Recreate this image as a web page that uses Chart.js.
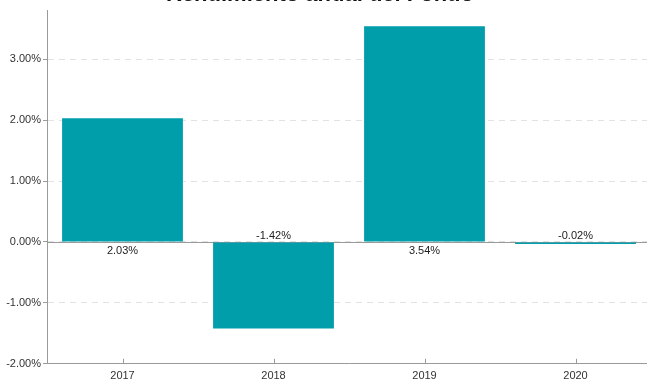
<!DOCTYPE html>
<html>
<head>
<meta charset="utf-8">
<script src="https://cdn.jsdelivr.net/npm/chart.js@4.4.1/dist/chart.umd.min.js"></script>
<style>
	html, body { margin: 0; padding: 0; background: #fff; }
	#wrap { position: relative; width: 647px; height: 379px; overflow: hidden; }
	#chart { position: absolute; left: -11px; top: -30px; }
</style>
</head>
<body>
<div id="wrap"><canvas id="chart" width="662" height="419"></canvas></div>
<script>
const years = ["2017", "2018", "2019", "2020"];
const returns = [2.03, -1.42, 3.54, -0.02];
const yTicks = [-2, -1, 0, 1, 2, 3];

const teal = "#009dab";
const axisGrey = "#9a9a9a";
const pct = v => v.toFixed(2) + "%";

// solid line at 0% over the dashed grid
const zeroLine = {
	id: "zeroLine",
	beforeDatasetsDraw(chart) {
		const { ctx, chartArea, scales } = chart;
		const y = Math.round(scales.y.getPixelForValue(0)) + 0.5;
		ctx.save();
		ctx.strokeStyle = axisGrey;
		ctx.lineWidth = 1;
		ctx.beginPath();
		ctx.moveTo(chartArea.left, y);
		ctx.lineTo(chartArea.right, y);
		ctx.stroke();
		ctx.restore();
	},
};

// small tick marks pointing up from the x axis
const innerTicks = {
	id: "innerTicks",
	afterDraw(chart) {
		const { ctx, scales } = chart;
		const x = scales.x;
		ctx.save();
		ctx.strokeStyle = axisGrey;
		ctx.lineWidth = 1;
		x.ticks.forEach((t, i) => {
			const px = Math.round(x.getPixelForTick(i)) + 0.5;
			ctx.beginPath();
			ctx.moveTo(px, x.top);
			ctx.lineTo(px, x.top - 5);
			ctx.stroke();
		});
		ctx.restore();
	},
};

// value labels on the opposite side of the zero line
const valueLabels = {
	id: "valueLabels",
	afterDatasetsDraw(chart) {
		const { ctx, scales } = chart;
		const zero = scales.y.getPixelForValue(0);
		ctx.save();
		ctx.font = "11px 'Liberation Sans', Arial, sans-serif";
		ctx.fillStyle = "#222";
		ctx.textAlign = "center";
		ctx.textBaseline = "middle";
		chart.getDatasetMeta(0).data.forEach((bar, i) => {
			const v = returns[i];
			const y = v >= 0 ? zero + 9 : zero - 6;
			ctx.fillText(pct(v), bar.x, y);
		});
		ctx.restore();
	},
};

new Chart(document.getElementById("chart"), {
	type: "bar",
	data: {
		labels: years,
		datasets: [{
			data: returns,
			backgroundColor: teal,
			borderWidth: 0,
			barPercentage: 1,
			categoryPercentage: 0.8,
			minBarLength: 2,
		}],
	},
	plugins: [zeroLine, innerTicks, valueLabels],
	options: {
		responsive: false,
		animation: false,
		layout: { padding: { left: 0, right: 0, top: 0, bottom: 0 } },
		plugins: {
			legend: { display: false },
			tooltip: { enabled: false },
			title: {
				display: true,
				text: "Rendimiento anual del Fondo",
				color: "#111",
				font: { family: "'Liberation Sans', Arial, sans-serif", size: 22, weight: "bold" },
				padding: { top: 12, bottom: 2 },
			},
		},
		scales: {
			x: {
				grid: { display: true, drawOnChartArea: false, drawTicks: false },
				border: { display: true, color: axisGrey },
				ticks: {
					color: "#333",
					padding: 6,
					font: { family: "'Liberation Sans', Arial, sans-serif", size: 11 },
				},
			},
			y: {
				min: -2,
				max: 3.8,
				afterBuildTicks: s => { s.ticks = yTicks.map(v => ({ value: v })); },
				afterFit: s => { s.width = 58; },
				grid: {
					color: "#e2e2e2",
					tickColor: axisGrey,
					tickLength: 4,
					tickBorderDash: [],
				},
				border: { display: true, color: axisGrey, dash: [6, 5] },
				ticks: {
					color: "#333",
					padding: 2,
					font: { family: "'Liberation Sans', Arial, sans-serif", size: 11 },
					callback: v => pct(v),
				},
			},
		},
	},
});
</script>
</body>
</html>
